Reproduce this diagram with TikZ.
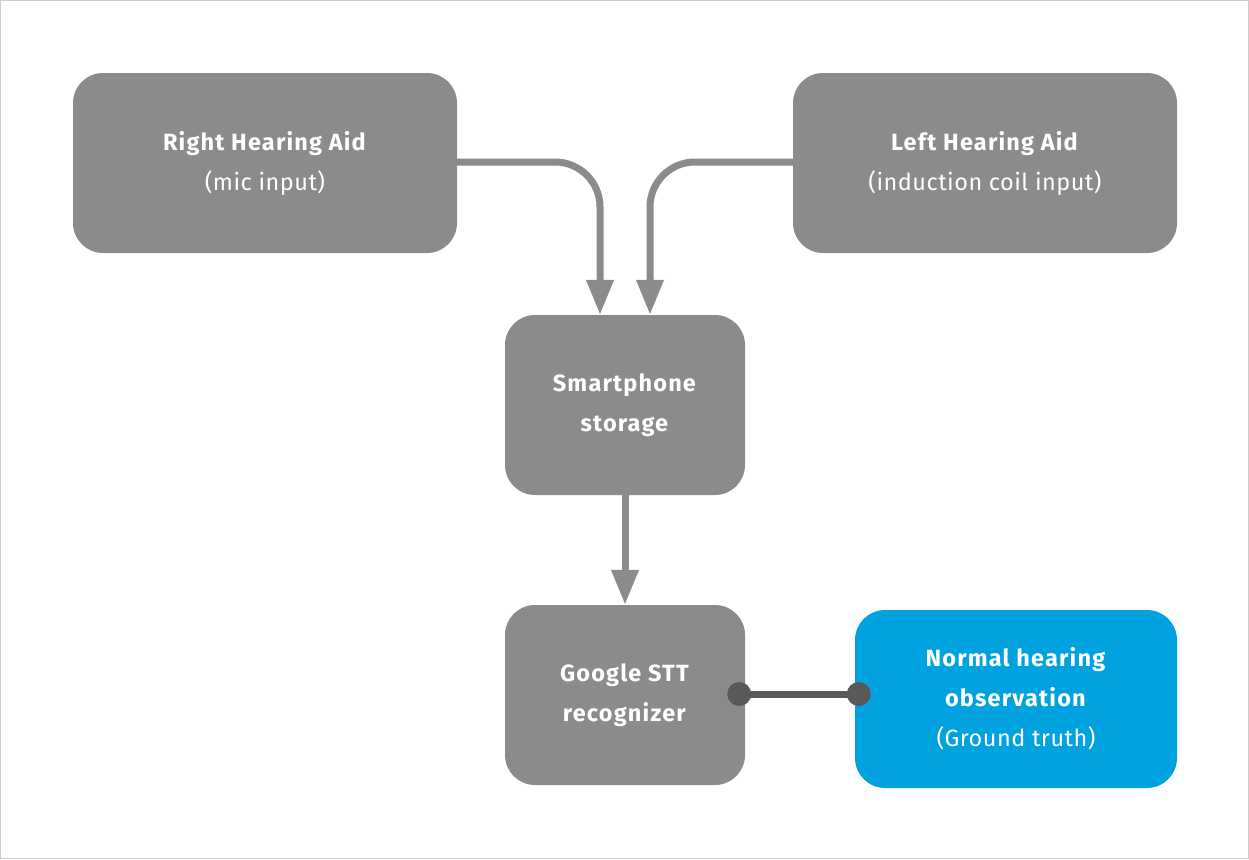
\documentclass[tikz,border=0pt]{standalone}
\usepackage{fontspec}
\setmainfont{Fira Sans}[LetterSpace=2, BoldFeatures={LetterSpace=5}]
\usetikzlibrary{arrows.meta,calc}
\definecolor{boxgray}{HTML}{8A8B8D}
\definecolor{linkgray}{HTML}{58595B}
\definecolor{truthblue}{HTML}{00A3E0}
\begin{document}
\begin{tikzpicture}[x=1pt,y=1pt]
\tikzset{ >={Triangle[width=26pt,length=35pt]},
  block/.style={fill=boxgray, rounded corners=30pt, text=white, align=center,
    inner sep=0pt, minimum height=180pt,
    font=\fontsize{23.5}{40}\selectfont},
  flow/.style={draw=boxgray, line width=7pt, rounded corners=45pt, ->},
}

\useasboundingbox (0,0) rectangle (1249,-859);
\draw [black!20, line width=1pt] (0.5,-0.5) rectangle (1248.5,-858.5);

\node [block, minimum width=384pt] (RHA) at (265,-163) {\textbf{Right Hearing Aid}\\(mic input)};
\node [block, minimum width=384pt] (LHA) at (985,-163) {\textbf{Left Hearing Aid}\\(induction coil input)};
\node [block, minimum width=240pt] (PHONE) at (625,-405) {\textbf{Smartphone}\\\textbf{storage}};
\node [block, minimum width=240pt] (STT) at (625,-695) {\textbf{Google STT}\\\textbf{recognizer}};
\node [block, fill=truthblue, minimum width=322pt, minimum height=178pt] (GT) at (1016,-699)
  {\textbf{Normal hearing}\\\textbf{observation}\\(Ground truth)};

\draw [flow] ([yshift=1pt]RHA.east) -| ([xshift=-25pt]PHONE.north);
\draw [flow] ([yshift=1pt]LHA.west) -| ([xshift=25pt]PHONE.north);
\draw [flow] (PHONE) -- (STT);

\coordinate (A) at ($(STT.east)+(-6,1)$);
\coordinate (B) at (GT.west |- A);
\coordinate (B) at ($(B)+(4,0)$);
\draw [linkgray, line width=7pt] (A) -- (B);
\fill [linkgray] (A) circle (12pt);
\fill [linkgray] (B) circle (12pt);
\end{tikzpicture}
\end{document}
